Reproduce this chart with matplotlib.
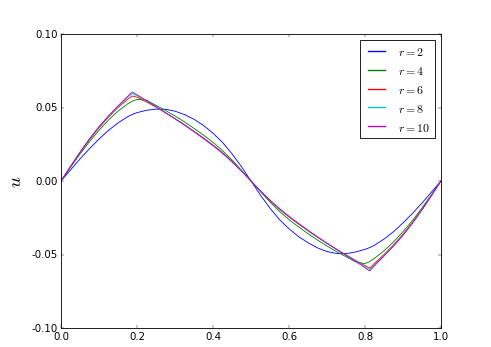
import matplotlib
matplotlib.use('Agg')
import matplotlib.pyplot as plt

plt.style.use('classic')

x = [0.0, 0.025, 0.05, 0.075, 0.1, 0.125, 0.15, 0.175, 0.1875, 0.2,
     0.225, 0.25, 0.275, 0.3, 0.325, 0.35, 0.375, 0.4, 0.425, 0.45,
     0.475, 0.5, 0.525, 0.55, 0.575, 0.6, 0.625, 0.65, 0.675, 0.7,
     0.725, 0.75, 0.775, 0.8, 0.8125, 0.825, 0.85, 0.875, 0.9, 0.925,
     0.95, 0.975, 1.0]

u_r2 = [0.0, 0.0075, 0.0150, 0.0220, 0.0285, 0.0345, 0.0395, 0.0437, 0.0453, 0.0465,
        0.0481, 0.0489, 0.0488, 0.0475, 0.0452, 0.0420, 0.0378, 0.0325, 0.0263, 0.0185,
        0.0097, 0.0, -0.0097, -0.0185, -0.0263, -0.0325, -0.0378, -0.0420, -0.0455, -0.0480,
        -0.0493, -0.0494, -0.0483, -0.0465, -0.0453, -0.0437, -0.0395, -0.0345, -0.0285, -0.0220,
        -0.0150, -0.0075, 0.0]
u_r4 = [0.0, 0.0093, 0.0183, 0.0268, 0.0345, 0.0415, 0.0475, 0.0524, 0.0543, 0.0555,
        0.0550, 0.0515, 0.0480, 0.0442, 0.0402, 0.0358, 0.0312, 0.0263, 0.0207, 0.0143,
        0.0073, 0.0, -0.0073, -0.0143, -0.0207, -0.0263, -0.0312, -0.0358, -0.0402, -0.0442,
        -0.0480, -0.0515, -0.0550, -0.0562, -0.0548, -0.0526, -0.0475, -0.0415, -0.0345, -0.0268,
        -0.0183, -0.0093, 0.0]
u_r6 = [0.0, 0.0097, 0.0192, 0.0281, 0.0362, 0.0435, 0.0500, 0.0555, 0.0578, 0.0570,
        0.0538, 0.0502, 0.0464, 0.0424, 0.0383, 0.0339, 0.0293, 0.0245, 0.0193, 0.0134,
        0.0069, 0.0, -0.0069, -0.0134, -0.0193, -0.0245, -0.0293, -0.0339, -0.0383, -0.0424,
        -0.0464, -0.0502, -0.0540, -0.0575, -0.0592, -0.0560, -0.0500, -0.0435, -0.0362, -0.0281,
        -0.0192, -0.0097, 0.0]
u_r8 = [0.0, 0.0099, 0.0195, 0.0285, 0.0367, 0.0440, 0.0507, 0.0568, 0.0595, 0.0580,
        0.0543, 0.0504, 0.0465, 0.0424, 0.0382, 0.0337, 0.0290, 0.0242, 0.0190, 0.0132,
        0.0068, 0.0, -0.0068, -0.0132, -0.0190, -0.0242, -0.0290, -0.0337, -0.0382, -0.0424,
        -0.0465, -0.0504, -0.0543, -0.0582, -0.0602, -0.0570, -0.0507, -0.0440, -0.0367, -0.0285,
        -0.0195, -0.0099, 0.0]
u_r10 = [0.0, 0.0100, 0.0197, 0.0288, 0.0370, 0.0443, 0.0511, 0.0575, 0.0605, 0.0587,
         0.0547, 0.0506, 0.0465, 0.0423, 0.0380, 0.0335, 0.0288, 0.0240, 0.0188, 0.0130,
         0.0067, 0.0, -0.0067, -0.0130, -0.0188, -0.0240, -0.0288, -0.0335, -0.0380, -0.0423,
         -0.0465, -0.0506, -0.0547, -0.0590, -0.0612, -0.0577, -0.0511, -0.0443, -0.0370, -0.0288,
         -0.0197, -0.0100, 0.0]

series = [(u_r2, 'b', '$r=2$'), (u_r4, 'g', '$r=4$'), (u_r6, 'r', '$r=6$'),
          (u_r8, 'c', '$r=8$'), (u_r10, 'm', '$r=10$')]

fig = plt.figure(figsize=(8, 5.67), dpi=61.375)
ax = fig.add_axes([61 / 491, 19 / 348, 380 / 491, 294 / 348])
for u, col, lab in series:
    ax.plot(x, u, col, label=lab, lw=1.0)

ax.set_xlim(0, 1)
ax.set_ylim(-0.1, 0.1)
ax.set_xticks([0.0, 0.2, 0.4, 0.6, 0.8, 1.0])
ax.set_yticks([-0.10, -0.05, 0.0, 0.05, 0.10])
ax.set_yticklabels(['%.2f' % v for v in [-0.10, -0.05, 0.0, 0.05, 0.10]])
ax.tick_params(labelsize=12)
ax.set_ylabel('$u$', fontsize=22, labelpad=8)
leg = ax.legend(loc=1, fontsize=14)
for h in leg.get_lines():
    h.set_linewidth(1.6)

fig.savefig('out.png', dpi=61.375)
